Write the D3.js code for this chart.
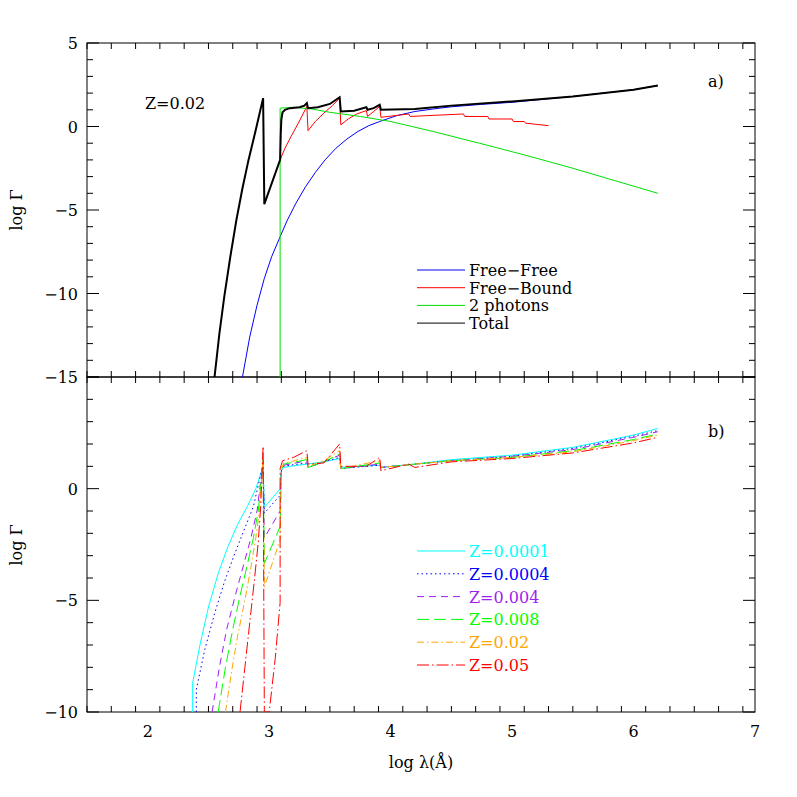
<!DOCTYPE html>
<html>
<head>
<meta charset="utf-8">
<script src="https://cdnjs.cloudflare.com/ajax/libs/d3/7.8.5/d3.min.js"></script>
<style>
  html, body { margin: 0; padding: 0; background: #fff; }
  svg text { font-family: "DejaVu Serif", "Liberation Serif", serif; font-size: 16px; }
</style>
</head>
<body>
<svg id="chart" width="797" height="797"></svg>
<script>
// ---- panel a) data: [log lambda, log Gamma]
const freeFree = [[2.78,-15],[2.84,-12.6],[2.9,-10.7],[2.96,-9.1],[3.02,-7.8],[3.09,-6.6],[3.15,-5.6],[3.22,-4.6],[3.3,-3.6],[3.38,-2.75],[3.46,-2.0],[3.55,-1.3],[3.64,-0.75],[3.73,-0.3],[3.82,0.05],[3.91,0.3],[4.05,0.65],[4.2,0.9],[4.35,1.05],[4.5,1.18],[4.74,1.32],[5,1.45],[5.5,1.8],[6,2.2],[6.2,2.45]];
const freeBound = [[3.09,-2.0],[3.13,-1.3],[3.18,-0.6],[3.24,0.2],[3.31,1.2],[3.32,-0.25],[3.38,0.3],[3.45,0.8],[3.52,1.25],[3.58,1.7],[3.59,0.1],[3.65,0.45],[3.72,0.75],[3.8,0.95],[3.81,0.6],[3.86,0.9],[3.91,1.2],[3.92,0.55],[4.15,0.75],[4.16,0.6],[4.3,0.65],[4.6,0.75],[4.61,0.6],[4.8,0.6],[4.81,0.45],[5,0.45],[5.01,0.3],[5.1,0.3],[5.11,0.2],[5.3,0.05]];
const twoPhoton = [[3.09,-15],[3.09,1.1],[3.2,1.15],[3.35,1.05],[3.5,0.85],[3.75,0.6],[4,0.3],[4.35,-0.3],[4.73,-1.0],[5.1,-1.7],[5.5,-2.5],[5.85,-3.25],[6.2,-4.0]];
const total = [[2.55,-15],[2.59,-12.4],[2.63,-10.2],[2.68,-7.8],[2.73,-5.6],[2.78,-3.7],[2.83,-2.0],[2.89,-0.2],[2.95,1.7],[2.96,-4.65],[3.09,-2.0],[3.095,-0.5],[3.10,0.4],[3.11,0.85],[3.13,1.0],[3.17,1.1],[3.25,1.15],[3.29,1.25],[3.31,1.4],[3.32,1.1],[3.4,1.15],[3.5,1.35],[3.58,1.75],[3.59,0.9],[3.7,0.95],[3.8,1.15],[3.81,1.0],[3.86,1.1],[3.91,1.3],[3.92,1.0],[4.2,1.05],[4.5,1.25],[5,1.5],[5.5,1.8],[6,2.2],[6.2,2.45]];

// ---- panel b) data, one per metallicity
const zLabels = ["Z=0.0001","Z=0.0004","Z=0.004","Z=0.008","Z=0.02","Z=0.05"];
const z0001 = [[2.37,-10],[2.37,-8.7],[2.43,-7.0],[2.5,-5.3],[2.58,-3.8],[2.66,-2.6],[2.74,-1.6],[2.82,-0.8],[2.89,0.0],[2.95,1.0],[2.96,-0.85],[3.09,0],[3.10,0.8],[3.12,0.95],[3.17,1.0],[3.31,1.1],[3.45,1.2],[3.58,1.35],[3.59,0.95],[3.91,1.05],[3.92,0.95],[4.2,1.1],[4.5,1.3],[5,1.5],[5.5,1.85],[6,2.4],[6.2,2.7]];
const z0004 = [[2.40,-10],[2.40,-9.0],[2.47,-7.2],[2.55,-5.6],[2.63,-4.2],[2.71,-3.0],[2.79,-1.9],[2.87,-0.8],[2.95,1.1],[2.96,-1.1],[3.09,-0.3],[3.10,0.8],[3.12,1.0],[3.17,1.05],[3.31,1.15],[3.32,0.95],[3.45,1.2],[3.58,1.4],[3.59,0.9],[3.91,1.05],[3.92,0.95],[4.2,1.1],[4.5,1.25],[5,1.45],[5.5,1.8],[6,2.35],[6.2,2.6]];
const z004 = [[2.53,-10],[2.59,-8.0],[2.65,-6.3],[2.72,-4.8],[2.79,-3.4],[2.85,-2.2],[2.9,-1.0],[2.95,1.2],[2.96,-2.2],[3.09,-1.0],[3.10,0.8],[3.12,1.05],[3.17,1.1],[3.31,1.25],[3.32,0.95],[3.45,1.2],[3.58,1.5],[3.59,0.9],[3.91,1.1],[3.92,0.95],[4.2,1.1],[4.5,1.25],[5,1.45],[5.5,1.75],[6,2.3],[6.2,2.55]];
const z008 = [[2.58,-10],[2.64,-8.0],[2.7,-6.3],[2.76,-4.8],[2.82,-3.4],[2.87,-2.2],[2.91,-1.0],[2.95,1.3],[2.96,-3.35],[3.09,-1.7],[3.10,0.8],[3.12,1.1],[3.17,1.15],[3.31,1.3],[3.32,0.95],[3.45,1.2],[3.58,1.55],[3.59,0.9],[3.91,1.15],[3.92,0.95],[4.2,1.1],[4.5,1.25],[5,1.4],[5.5,1.7],[6,2.2],[6.2,2.45]];
const z02 = [[2.64,-10],[2.69,-8.2],[2.74,-6.6],[2.8,-5.0],[2.85,-3.5],[2.89,-2.2],[2.92,-1.0],[2.95,1.4],[2.96,-4.4],[3.09,-2.3],[3.10,0.9],[3.12,1.15],[3.17,1.2],[3.31,1.4],[3.32,1.0],[3.45,1.25],[3.58,1.7],[3.59,0.9],[3.91,1.25],[3.92,0.95],[4.2,1.1],[4.5,1.25],[5,1.4],[5.5,1.65],[6,2.15],[6.2,2.4]];
const z05 = [[2.76,-10],[2.8,-8.0],[2.84,-6.0],[2.88,-4.0],[2.91,-2.4],[2.93,-0.8],[2.95,1.9],[2.96,-10],[3.0,-10],[3.05,-7.6],[3.09,-5.1],[3.09,0.9],[3.11,1.25],[3.2,1.4],[3.31,1.7],[3.32,1.1],[3.45,1.15],[3.58,2.0],[3.59,1.0],[3.8,1.0],[3.91,1.4],[3.92,0.8],[4.15,1.1],[4.2,0.95],[4.5,1.2],[5,1.35],[5.5,1.6],[6,2.05],[6.2,2.3]];

const xTicks = [2,3,4,5,6,7];
const yTicksA = [5,0,-5,-10,-15];
const yTicksB = [0,-5,-10];

const svg = d3.select("#chart");
const x = d3.scaleLinear().domain([1.5,7]).range([87,755]);
const yA = d3.scaleLinear().domain([-15,5]).range([377,43]);
const yB = d3.scaleLinear().domain([-10,5]).range([712,377]);
const line = (y) => d3.line().x(d => x(d[0])).y(d => y(d[1]));

function frame(y, majorY, minorStep, showBottomLabels) {
  const [y0, y1] = y.domain();
  const g = svg.append("g");
  g.append("rect").attr("x",87).attr("y",y.range()[1]).attr("width",668)
    .attr("height",y.range()[0]-y.range()[1]).attr("fill","none").attr("stroke","#000");
  d3.range(15,71,2).forEach(t => {
    const v = t/10, major = t % 10 === 0, len = major ? 12 : 6;
    [[y.range()[0], -len],[y.range()[1], len]].forEach(([yy, d]) => {
      g.append("line").attr("x1",x(v)).attr("x2",x(v)).attr("y1",yy).attr("y2",yy+d).attr("stroke","#000");
    });
  });
  for (let v = y0; v <= y1; v += minorStep) {
    const major = v % 5 === 0, len = major ? 12 : 6;
    [[87, len],[755, -len]].forEach(([xx, d]) => {
      g.append("line").attr("x1",xx).attr("x2",xx+d).attr("y1",y(v)).attr("y2",y(v)).attr("stroke","#000");
    });
  }
  majorY.forEach(v => g.append("text").attr("x",78).attr("y",y(v)+6).attr("text-anchor","end")
    .text(v < 0 ? "\u2212" + (-v) : v));
  if (showBottomLabels) xTicks.forEach(v => g.append("text").attr("x",x(v)).attr("y",y.range()[0]+25)
    .attr("text-anchor","middle").text(v));
}
frame(yA, yTicksA, 1, false);
frame(yB, yTicksB, 1, true);

// panel a
svg.append("defs").append("clipPath").attr("id","ca").append("rect").attr("x",87).attr("y",43).attr("width",668).attr("height",334);
svg.append("defs").append("clipPath").attr("id","cb").append("rect").attr("x",87).attr("y",377).attr("width",668).attr("height",335);
const pa = svg.append("g").attr("clip-path","url(#ca)");
const seriesA = [[freeFree,"#0000ff",1,"Free\u2212Free"],[freeBound,"#ff0000",1,"Free\u2212Bound"],[twoPhoton,"#00e000",1,"2 photons"],[total,"#000",2,"Total"]];
seriesA.forEach(([d,c,w]) => pa.append("path").datum(d).attr("d",line(yA)).attr("fill","none").attr("stroke",c).attr("stroke-width",w));
seriesA.forEach(([d,c,w,lab],i) => {
  const yy = 270 + i*17.7;
  svg.append("line").attr("x1",417).attr("x2",465).attr("y1",yy).attr("y2",yy).attr("stroke",c);
  svg.append("text").attr("x",469).attr("y",yy+6).text(lab);
});
svg.append("text").attr("x",145).attr("y",109).text("Z=0.02");
svg.append("text").attr("x",708).attr("y",87).text("a)");

// panel b
const pb = svg.append("g").attr("clip-path","url(#cb)");
const seriesB = [[z0001,"#00ffff",null],[z0004,"#0000ff","1.5,3"],[z004,"#a020f0","7,5"],[z008,"#00ff00","12,5"],[z02,"#ffa500","7,3,1.5,3"],[z05,"#ff0000","12,3,1.5,3"]];
seriesB.forEach(([d,c,dash]) => pb.append("path").datum(d).attr("d",line(yB)).attr("fill","none")
  .attr("stroke",c).attr("stroke-dasharray",dash));
seriesB.forEach(([d,c,dash],i) => {
  const yy = 551 + i*22.8;
  svg.append("line").attr("x1",417).attr("x2",465).attr("y1",yy).attr("y2",yy).attr("stroke",c).attr("stroke-dasharray",dash);
  svg.append("text").attr("x",469).attr("y",yy+6).attr("fill",c).text(zLabels[i]);
});
svg.append("text").attr("x",708).attr("y",437).text("b)");

svg.append("text").attr("x",421).attr("y",768).attr("text-anchor","middle").text("log  \u03bb(\u00c5)");
[[210],[545]].forEach(([cy]) => svg.append("text").attr("transform",`translate(22,${cy}) rotate(-90)`)
  .attr("text-anchor","middle").text("log  \u0393"));
</script>
</body>
</html>
